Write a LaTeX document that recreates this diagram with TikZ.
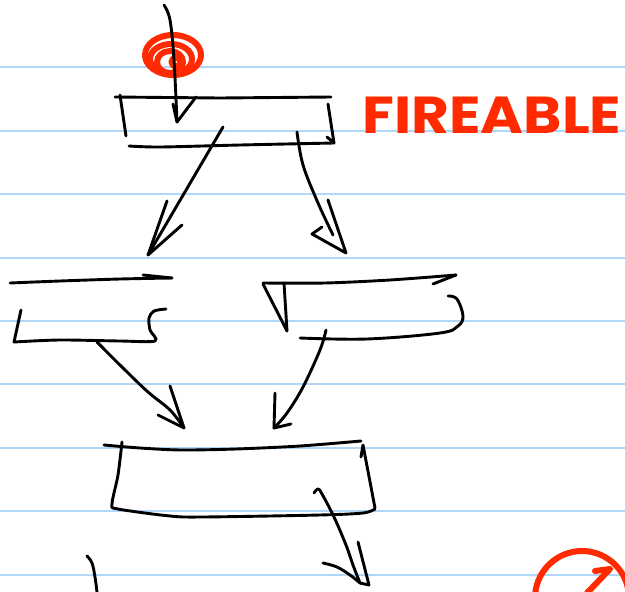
\documentclass[tikz,border=0pt]{standalone}
\usepackage{fontspec}
\newfontfamily\handfont{Poppins}
\definecolor{inkred}{RGB}{255,42,0}
\definecolor{rulingblue}{RGB}{176,214,248}
\begin{document}
\begin{tikzpicture}[x=1pt,y=-1pt,
  pen/.style={line width=2.9pt, line cap=round, line join=round, draw=black},
  redpen/.style={line width=6pt, line cap=round, line join=round, draw=inkred},
  ruling/.style={line width=2pt, draw=rulingblue}]
\path[use as bounding box, fill=white] (0,0) rectangle (625,592);
\clip (0,0) rectangle (625,592);

% ruled notebook lines
\foreach \y in {67,130.5,194,257.5,321,384,447.5,511,574.5}
  \draw[ruling] (0,\y) -- (625,\y);

% red scribbled marker on the entry arrow
\draw[redpen] (173,55) ellipse [x radius=28, y radius=20];
\draw[redpen] (171,59) ellipse [x radius=21, y radius=15];
\draw[redpen] (170,62) ellipse [x radius=13, y radius=11];
\draw[redpen] (176,62) circle [radius=4.5];

% label
\node[anchor=base west, inner sep=0pt, text=inkred, xscale=1.12,
  font=\handfont\bfseries\fontsize{52}{52}\selectfont]
  (label) at (362,133) {FIREABLE};

% key points of the flow
\coordinate (entry) at (164,5);
\coordinate (entrytip) at (177,122);
\coordinate (topL) at (223,127);
\coordinate (topR) at (297,132);
\coordinate (leftTip) at (148,255);
\coordinate (rightTip) at (346,253);
\coordinate (midL) at (97,342);
\coordinate (midR) at (326,330);
\coordinate (joinTipL) at (184,428);
\coordinate (joinTipR) at (274,428);
\coordinate (outStart) at (320,492);
\coordinate (outTip) at (369,585);

% entry arrow
\draw[pen] plot[smooth, tension=0.6] coordinates {(entry) (170,20) (174,60) (entrytip)};
\draw[pen] (173,104) -- (entrytip) -- (196,97);

% top box
\draw[pen] (115,97) -- (220,98) -- (331,97);
\draw[pen] (120,95) -- (126,136);
\draw[pen] plot[smooth, tension=0.5] coordinates {(129,146) (160,147) (240,145) (334,143)};
\draw[pen] (328,104) -- (334,143) -- (327,137);

% arrows out of the top box
\draw[pen] (topL) -- (leftTip);
\draw[pen] (167,201) -- (leftTip) -- (182,225);
\draw[pen] plot[smooth, tension=0.6] coordinates {(topR) (303,165) (318,203) (333,235)};
\draw[pen] (328,200) -- (rightTip) -- (312,234) -- (322,227);

% middle left box
\draw[pen] plot[smooth, tension=0.5] coordinates {(10,283) (60,281) (120,279) (172,278)};
\draw[pen] (143,275) -- (172,278);
\draw[pen] (21,310) -- (14,342);
\draw[pen] plot[smooth, tension=0.5] coordinates {(14,342) (60,340) (120,341) (155,341) (150,330) (149,318) (154,311) (166,309)};

% middle right box
\draw[pen] plot[smooth, tension=0.5] coordinates {(263,283) (325,283) (390,280) (456,275)};
\draw[pen] (433,284) -- (456,275);
\draw[pen] (263,284) -- (287,331);
\draw[pen] (284,283) -- (287,331);
\draw[pen] plot[smooth, tension=0.6] coordinates {(448,296) (457,299) (463,316) (458,326) (440,333) (367,339) (300,338)};

% arrows into the bottom box
\draw[pen] plot[smooth, tension=0.6] coordinates {(midL) (123,368) (148,392) (170,410) (joinTipL)};
\draw[pen] (170,386) -- (joinTipL) -- (158,415);
\draw[pen] plot[smooth, tension=0.6] coordinates {(midR) (320,350) (303,387) (287,413) (joinTipR)};
\draw[pen] (275,393) -- (joinTipR) -- (291,424);

% bottom box
\draw[pen] plot[smooth, tension=0.5] coordinates {(104,445) (140,448) (181,450) (236,449) (300,446) (361,441)};
\draw[pen] plot[smooth, tension=0.5] coordinates {(122,442) (118,475) (112,504) (118,509) (170,516) (203,517) (320,515) (363,513) (375,509)};
\draw[pen] (361,457) -- (363,445) -- (375,508);

% arrow leaving the bottom box
\draw[pen] plot[smooth, tension=0.6] coordinates {(314,493) (318,489) (322,494) (334,517) (346,545) (353,565) (360,583)};
\draw[pen] (358,542) -- (outTip) -- (360,583);
\draw[pen] plot[smooth, tension=0.6] coordinates {(323,563) (337,567) (350,575) (360,583)};

% stroke at the lower left
\draw[pen] plot[smooth, tension=0.6] coordinates {(87,556) (92,563) (95,577) (97,592)};

% red mark at the lower right
\draw[redpen] (582,598) circle [radius=47];
\draw[redpen] (587,593) -- (609,570);
\draw[redpen] (595,571) -- (610,569);
\end{tikzpicture}
\end{document}
